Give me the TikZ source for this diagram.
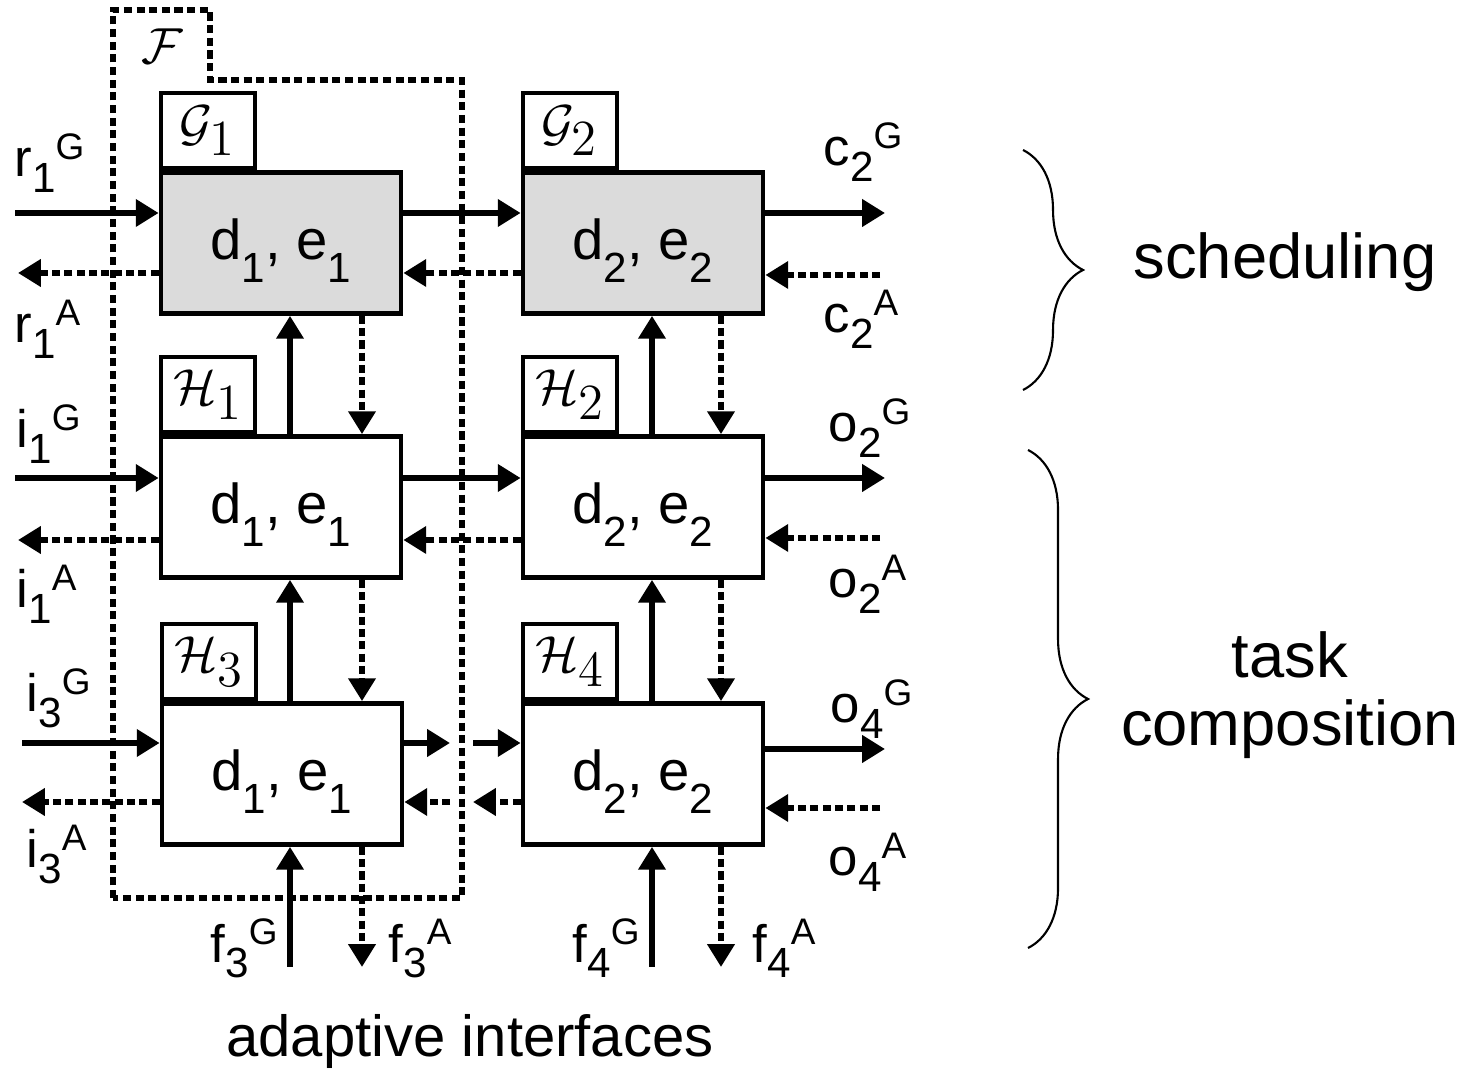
\documentclass[tikz,border=0pt]{standalone}
\usepackage[no-math]{fontspec}
\setmainfont{Liberation Sans}
\usetikzlibrary{arrows.meta,decorations.pathreplacing}

\newcommand{\subfont}{\fontsize{12}{14}\selectfont}
\newcommand{\supfont}{\fontsize{10.5}{12}\selectfont}
% signal name: letter, index, G or A
\newcommand{\sig}[3]{#1\raisebox{-4.5pt}{\subfont #2}\raisebox{5pt}{\supfont #3}}
% deadline and execution time of a task
\newcommand{\pair}[1]{d\smash{\raisebox{-6.5pt}{\subfont #1}}, e\smash{\raisebox{-6.5pt}{\subfont #1}}}

\begin{document}
\begin{tikzpicture}[x=0.01cm, y=-0.01cm,
    every node/.style={font=\fontsize{15}{18}\selectfont, inner sep=0pt},
    taskbox/.style={draw, line width=1.3pt, minimum width=2.4cm, minimum height=1.41cm, font=\fontsize{16}{19}\selectfont},
    schedbox/.style={taskbox, fill=black!14},
    tabbox/.style={draw, line width=1.3pt, minimum width=0.94cm, minimum height=0.75cm, anchor=south west},
    lbl/.style={anchor=base west},
    garr/.style={-{Triangle[length=6.5pt,width=7.5pt]}, line width=1.7pt},
    aarr/.style={garr, line width=1.9pt, dash pattern=on 2.3pt off 1.2pt},
    outline/.style={line width=1.7pt, dash pattern=on 2.3pt off 1.3pt},
    curly/.style={decorate, decoration={brace, amplitude=0.6cm}, line width=0.6pt},
    bracetext/.style={font=\fontsize{18}{19.5}\selectfont, align=center}
]
\useasboundingbox (0,0) rectangle (1470,1071);

% dotted frame F
\draw[outline] (113,898) -- (113,10) -- (210,10) -- (210,80) -- (462,80) -- (462,898) -- cycle;
\node (ftab) at (162,46) {$\mathcal{F}$};

% scheduling layer
\node[schedbox] (g1) at (281,243) {\pair{1}};
\node[schedbox] (g2) at (643,243) {\pair{2}};
\node[tabbox] (g1t) at (g1.north west) {$\mathcal{G}_{\displaystyle 1}$};
\node[tabbox] (g2t) at (g2.north west) {$\mathcal{G}_{\displaystyle 2}$};

% task layer
\node[taskbox] (h1) at (281,507) {\pair{1}};
\node[taskbox] (h2) at (643,507) {\pair{2}};
\node[taskbox] (h3) at (282,774) {\pair{1}};
\node[taskbox] (h4) at (643,774) {\pair{2}};
\node[tabbox] (h1t) at (h1.north west) {$\mathcal{H}_{\displaystyle 1}$};
\node[tabbox] (h2t) at (h2.north west) {$\mathcal{H}_{\displaystyle 2}$};
\node[tabbox] (h3t) at (h3.north west) {$\mathcal{H}_{\displaystyle 3}$};
\node[tabbox] (h4t) at (h4.north west) {$\mathcal{H}_{\displaystyle 4}$};

% free ends
\coordinate (r1G) at (15,213);
\coordinate (r1A) at (18,273);
\coordinate (i1G) at (15,478);
\coordinate (i1A) at (18,540);
\coordinate (i3G) at (22,743);
\coordinate (i3A) at (22,802);
\coordinate (c2G) at (885,213);
\coordinate (c2A) at (880,275);
\coordinate (o2G) at (885,478);
\coordinate (o2A) at (880,538);
\coordinate (o4G) at (885,749);
\coordinate (o4A) at (880,808);
\coordinate (f3G) at (290,967);
\coordinate (f3A) at (362,967);
\coordinate (f4G) at (652,967);
\coordinate (f4A) at (721,967);
\coordinate (gapL) at (450,743);
\coordinate (gapR) at (473,743);
\coordinate (gapLa) at (450,802);
\coordinate (gapRa) at (473,802);

% row 1
\draw[garr] (r1G) -- (r1G -| g1.west);
\draw[aarr] (r1A -| g1.west) -- (r1A);
\draw[garr] (g1.east |- r1G) -- (g2.west |- r1G);
\draw[aarr] (g2.west |- r1A) -- (g1.east |- r1A);
\draw[garr] (c2G -| g2.east) -- (c2G);
\draw[aarr] (c2A) -- (c2A -| g2.east);

% row 2
\draw[garr] (i1G) -- (i1G -| h1.west);
\draw[aarr] (i1A -| h1.west) -- (i1A);
\draw[garr] (h1.east |- i1G) -- (h2.west |- i1G);
\draw[aarr] (h2.west |- i1A) -- (h1.east |- i1A);
\draw[garr] (o2G -| h2.east) -- (o2G);
\draw[aarr] (o2A) -- (o2A -| h2.east);

% row 3
\draw[garr] (i3G) -- (i3G -| h3.west);
\draw[aarr] (i3A -| h3.west) -- (i3A);
\draw[garr] (h3.east |- gapL) -- (gapL);
\draw[garr] (gapR) -- (h4.west |- gapR);
\draw[aarr] (h4.west |- gapRa) -- (gapRa);
\draw[aarr] (gapLa) -- (h3.east |- gapLa);
\draw[garr] (o4G -| h4.east) -- (o4G);
\draw[aarr] (o4A) -- (o4A -| h4.east);

% column 1
\draw[garr] (f3G) -- (f3G |- h3.south);
\draw[aarr] (f3A |- h3.south) -- (f3A);
\draw[garr] (f3G |- h3.north) -- (f3G |- h1.south);
\draw[aarr] (f3A |- h1.south) -- (f3A |- h3.north);
\draw[garr] (f3G |- h1.north) -- (f3G |- g1.south);
\draw[aarr] (f3A |- g1.south) -- (f3A |- h1.north);

% column 2
\draw[garr] (f4G) -- (f4G |- h4.south);
\draw[aarr] (f4A |- h4.south) -- (f4A);
\draw[garr] (f4G |- h4.north) -- (f4G |- h2.south);
\draw[aarr] (f4A |- h2.south) -- (f4A |- h4.north);
\draw[garr] (f4G |- h2.north) -- (f4G |- g2.south);
\draw[aarr] (f4A |- g2.south) -- (f4A |- h2.north);

% signal labels
\node[lbl] (r1Gl) at (14,177) {\sig{r}{1}{G}};
\node[lbl] (r1Al) at (14,343) {\sig{r}{1}{A}};
\node[lbl] (i1Gl) at (16,448) {\sig{i}{1}{G}};
\node[lbl] (i1Al) at (16,608) {\sig{i}{1}{A}};
\node[lbl] (i3Gl) at (26,712) {\sig{i}{3}{G}};
\node[lbl] (i3Al) at (26,868) {\sig{i}{3}{A}};
\node[lbl] (c2Gl) at (823,166) {\sig{c}{2}{G}};
\node[lbl] (c2Al) at (823,333) {\sig{c}{2}{A}};
\node[lbl] (o2Gl) at (828,442) {\sig{o}{2}{G}};
\node[lbl] (o2Al) at (828,598) {\sig{o}{2}{A}};
\node[lbl] (o4Gl) at (830,723) {\sig{o}{4}{G}};
\node[lbl] (o4Al) at (828,876) {\sig{o}{4}{A}};
\node[lbl] (f3Gl) at (210,962) {\sig{f}{3}{G}};
\node[lbl] (f3Al) at (388,962) {\sig{f}{3}{A}};
\node[lbl] (f4Gl) at (572,962) {\sig{f}{4}{G}};
\node[lbl] (f4Al) at (752,962) {\sig{f}{4}{A}};

\node[font=\fontsize{16.5}{19}\selectfont] (adapt) at (470,1041) {adaptive interfaces};

% braces
\draw[curly] (1023,150) -- (1023,390);
\draw[curly] (1028,450) -- (1028,948);
\node[bracetext] (sched) at (1285,262) {scheduling};
\node[bracetext] (task) at (1290,695) {task\\composition};
\end{tikzpicture}
\end{document}
